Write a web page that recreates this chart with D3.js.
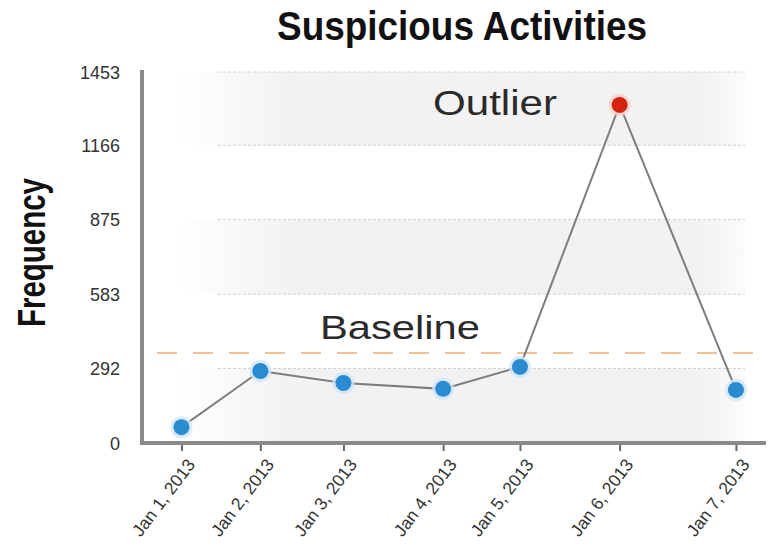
<!DOCTYPE html>
<html><head><meta charset="utf-8">
<script src="https://cdn.jsdelivr.net/npm/d3@7"></script>
<style>
html,body{margin:0;padding:0;background:#fff;}
svg{display:block;}
</style></head>
<body>
<svg id="c" width="769" height="546"></svg>
<script>
// ---- data ----
const dates = ["2013-01-01T21:30","2013-01-02T16:30","2013-01-03T12:30","2013-01-04T12:30","2013-01-05T07:00","2013-01-06T07:00","2013-01-07T11:00"];
const values = [62, 282, 235, 212, 298, 1324, 208];
const outlierFlags = [false,false,false,false,false,true,false];
const yTicks = [0, 292, 583, 875, 1166, 1453];
const bands = [[0,292],[583,875],[1166,1453]];
const baselineValue = 352;
const xDomain = ["2013-01-01T12:00","2013-01-07T18:00"];
const title = "Suspicious Activities";
const yTitle = "Frequency";

const parse = d3.isoParse;
const data = dates.map((d,i)=>({date: parse(d), value: values[i], outlier: outlierFlags[i]}));

const svg = d3.select("#c");
const x = d3.scaleTime().domain(xDomain.map(parse)).range([142, 765]);
const y = d3.scaleLinear().domain([0, 1453]).range([443, 72]);
const fmt = d3.timeFormat("%b %-d, %Y");
const FONT = "Liberation Sans, Arial, Helvetica, sans-serif";

const defs = svg.append("defs");
const grad = defs.append("linearGradient").attr("id","bandGrad").attr("x1","0").attr("x2","1").attr("y1","0").attr("y2","0");
grad.append("stop").attr("offset","0").attr("stop-color","#f2f2f2").attr("stop-opacity",0.0);
grad.append("stop").attr("offset","0.2").attr("stop-color","#f2f2f2").attr("stop-opacity",1);
grad.append("stop").attr("offset","0.92").attr("stop-color","#f2f2f2").attr("stop-opacity",1);
grad.append("stop").attr("offset","1").attr("stop-color","#f2f2f2").attr("stop-opacity",0.3);

const bandX0 = 178, bandX1 = 745;
const bg = svg.append("g");
bands.forEach(b=>{
  bg.append("rect").attr("x",bandX0).attr("width",bandX1-bandX0)
    .attr("y",y(b[1])).attr("height",y(b[0])-y(b[1])).attr("fill","url(#bandGrad)");
  [b[0],b[1]].forEach(v=>{
    if(v===0) return;
    bg.append("line").attr("x1",bandX0+40).attr("x2",bandX1).attr("y1",y(v)).attr("y2",y(v))
      .attr("stroke","#d0d0d0").attr("stroke-width",1).attr("stroke-dasharray","3,2");
  });
});

// baseline
svg.append("line").attr("x1",157).attr("x2",769).attr("y1",y(baselineValue)).attr("y2",y(baselineValue))
  .attr("stroke","#f2bf92").attr("stroke-width",2).attr("stroke-dasharray","20,16");
svg.append("text").attr("x",320).attr("y",339)
  .attr("font-family",FONT).attr("font-size",33).attr("fill","#2a2a2a")
  .attr("textLength",160).attr("lengthAdjust","spacingAndGlyphs").text("Baseline");

// Outlier label
svg.append("text").attr("x",433).attr("y",115)
  .attr("font-family",FONT).attr("font-size",35).attr("fill","#2a2a2a")
  .attr("textLength",124).attr("lengthAdjust","spacingAndGlyphs").text("Outlier");

// axes
const yAxis = d3.axisLeft(y).tickValues(yTicks).tickFormat(d3.format("d")).tickSize(0).tickPadding(22);
const gy = svg.append("g").attr("transform","translate(142,0)").call(yAxis);
gy.select(".domain").remove();
gy.selectAll("text").attr("font-family",FONT).attr("font-size",18).attr("fill","#333").attr("dy","0.35em");
svg.append("line").attr("x1",142).attr("x2",142).attr("y1",70).attr("y2",444).attr("stroke","#8a8a8a").attr("stroke-width",4);

const xAxis = d3.axisBottom(x).tickValues(data.map(d=>d.date)).tickFormat(fmt).tickSize(8).tickPadding(6);
const gx = svg.append("g").attr("transform","translate(0,443)").call(xAxis);
gx.select(".domain").remove();
gx.selectAll(".tick line").attr("stroke","#666").attr("stroke-width",2);
gx.selectAll("text").attr("font-family",FONT).attr("font-size",17.5).attr("fill","#333")
  .attr("text-anchor","end").attr("x",0).attr("y",0).attr("dy","0.35em")
  .attr("transform","translate(9,18) rotate(-53)");
svg.append("line").attr("x1",140).attr("x2",766).attr("y1",443).attr("y2",443).attr("stroke","#8a8a8a").attr("stroke-width",4);

// line
const line = d3.line().x(d=>x(d.date)).y(d=>y(d.value));
svg.append("path").datum(data).attr("d",line).attr("fill","none").attr("stroke","#7d7d7d").attr("stroke-width",2);

// dots
const dots = svg.append("g").selectAll("g").data(data).join("g").attr("transform",d=>`translate(${x(d.date)},${y(d.value)})`);
dots.append("circle").attr("r",11).attr("fill",d=>d.outlier?"#f6d0c8":"#cfe6f7").attr("opacity",0.8);
dots.append("circle").attr("r",8).attr("fill",d=>d.outlier?"#d42410":"#2b8bd0");

// titles
svg.append("text").attr("x",277).attr("y",40)
  .attr("font-family",FONT).attr("font-weight","bold")
  .attr("font-size",40).attr("fill","#111")
  .attr("textLength",370).attr("lengthAdjust","spacingAndGlyphs").text(title);
svg.append("text").attr("transform","translate(45,327) rotate(-90)")
  .attr("font-family",FONT).attr("font-weight","bold")
  .attr("font-size",38).attr("fill","#111")
  .attr("textLength",149).attr("lengthAdjust","spacingAndGlyphs").text(yTitle);
</script>
</body></html>
